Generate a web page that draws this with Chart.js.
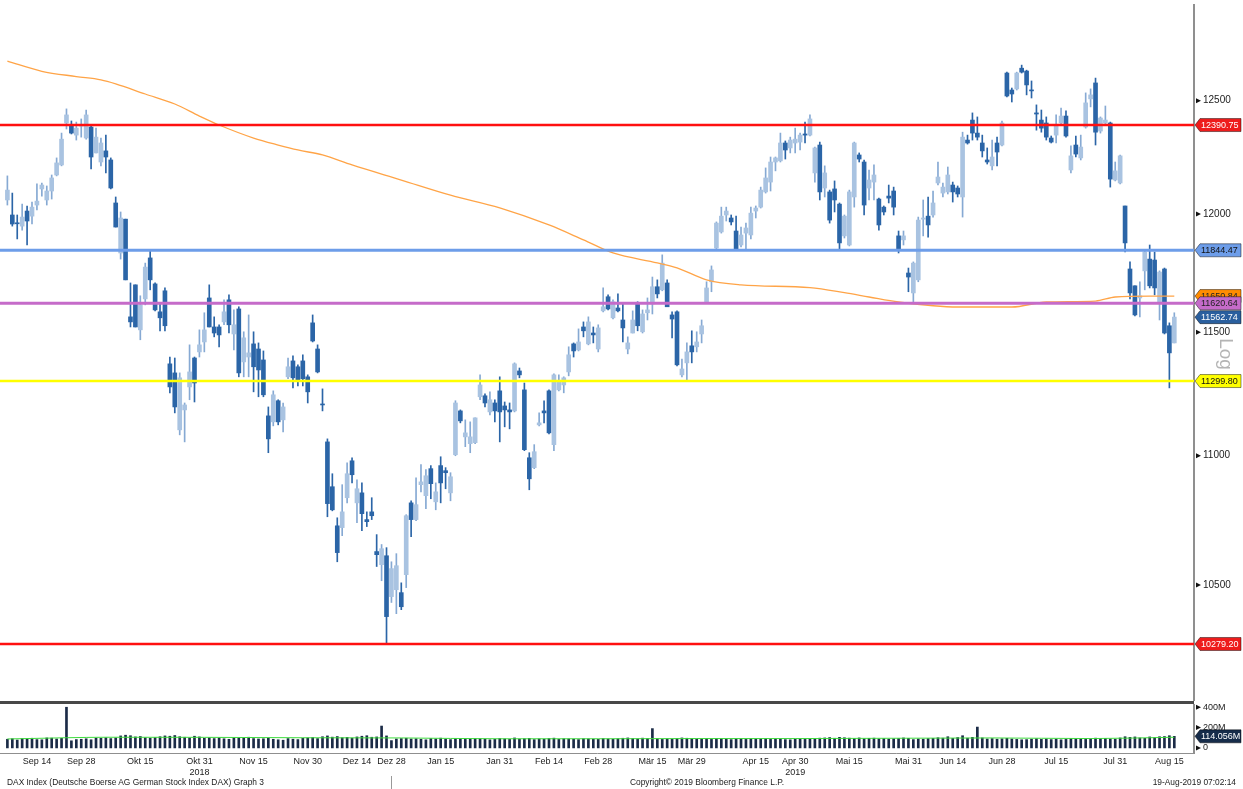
<!DOCTYPE html>
<html>
<head>
<meta charset="utf-8">
<script src="https://cdn.jsdelivr.net/npm/chart.js@4.4.1/dist/chart.umd.min.js"></script>
<style>
    html, body { margin: 0; padding: 0; background: #fff; }
    body { width: 1243px; height: 789px; position: relative; overflow: hidden;
           font-family: 'Liberation Sans', Arial, sans-serif; }
    #priceBox { position: absolute; left: 0; top: 0; }
    #sep { position: absolute; left: 0; top: 701px; width: 1194px; height: 3px; background: #484848; }
    #volBox { position: absolute; left: 0; top: 704px; }
    .foot { position: absolute; top: 777px; font-size: 8.4px; color: #222; white-space: nowrap; }
</style>
</head>
<body>
<div id="priceBox"><canvas id="priceChart" width="1243" height="701"></canvas></div>
<div id="sep"></div>
<div id="volBox"><canvas id="volChart" width="1243" height="85"></canvas></div>
<div class="foot" style="left:7px">DAX Index (Deutsche Boerse AG German Stock Index DAX) Graph 3</div>
<div class="foot" style="left:630px">Copyright© 2019 Bloomberg Finance L.P.</div>
<div class="foot" style="right:7px">19-Aug-2019 07:02:14</div>
<script>
// DAX daily candles, one entry per trading day (Sep 2018 .. 16 Aug 2019)
const openPx = [
    12061, 11996, 11961, 11948, 12013, 11991, 12039, 12109, 12061, 12100,
    12170, 12214, 12400, 12386, 12346, 12386, 12333, 12382, 12267, 12227,
    12276, 12236, 12048, 11833, 11978, 11564, 11698, 11510, 11639, 11812,
    11702, 11585, 11673, 11370, 11333, 11103, 11183, 11276, 11394, 11419,
    11460, 11643, 11522, 11522, 11543, 11635, 11493, 11597, 11378, 11398,
    11452, 11431, 11386, 11159, 11135, 11220, 11143, 11317, 11382, 11358,
    11382, 11317, 11539, 11431, 11207, 11055, 10878, 10726, 10719, 10835,
    10980, 10815, 10854, 10750, 10780, 10627, 10577, 10611, 10456, 10482,
    10471, 10539, 10815, 10750, 10886, 10843, 10949, 10819, 10961, 10941,
    10854, 11004, 11179, 11075, 11048, 11052, 11236, 11240, 11175, 11211,
    11260, 11199, 11183, 11179, 11341, 11264, 10992, 10953, 11123, 11179,
    11260, 11044, 11264, 11284, 11337, 11452, 11427, 11522, 11452, 11497,
    11431, 11589, 11648, 11560, 11601, 11551, 11431, 11497, 11618, 11502,
    11581, 11618, 11690, 11677, 11706, 11572, 11585, 11325, 11374, 11444,
    11440, 11493, 11627, 11711, 11854, 11923, 11996, 11983, 11927, 11867,
    11918, 11910, 12013, 12030, 12096, 12139, 12227, 12232, 12311, 12289,
    12311, 12315, 12351, 12346, 12179, 12302, 12113, 12096, 12109, 12043,
    11906, 11867, 12074, 12258, 12227, 12113, 12139, 12065, 12030, 12078,
    12100, 11906, 11889, 11748, 11664, 11719, 11978, 11991, 11996, 12135,
    12091, 12096, 12126, 12113, 12074, 12324, 12413, 12355, 12311, 12236,
    12210, 12311, 12302, 12625, 12548, 12553, 12647, 12634, 12548, 12445,
    12413, 12400, 12333, 12346, 12400, 12431, 12192, 12302, 12245, 12382,
    12508, 12580, 12364, 12400, 12400, 12148, 12135, 12035, 11765, 11694,
    11643, 11757, 11807, 11803, 11627, 11765, 11527, 11456
];
const highPx = [
    12166, 12091, 11996, 12043, 12035, 12052, 12131, 12135, 12122, 12170,
    12245, 12355, 12463, 12409, 12404, 12418, 12458, 12391, 12377, 12333,
    12346, 12245, 12074, 12009, 11978, 11706, 11698, 11652, 11790, 11842,
    11706, 11618, 11685, 11398, 11394, 11333, 11211, 11448, 11398, 11510,
    11581, 11698, 11564, 11531, 11635, 11656, 11593, 11606, 11502, 11572,
    11502, 11456, 11423, 11195, 11260, 11224, 11211, 11394, 11403, 11366,
    11407, 11325, 11572, 11448, 11268, 11067, 10929, 10757, 10886, 10972,
    10992, 10905, 10893, 10780, 10835, 10692, 10654, 10642, 10588, 10619,
    10508, 10769, 10823, 10913, 10965, 10945, 10961, 10893, 10996, 10953,
    10933, 11220, 11183, 11143, 11135, 11151, 11325, 11248, 11256, 11224,
    11317, 11215, 11211, 11374, 11353, 11292, 11012, 11044, 11171, 11220,
    11264, 11329, 11325, 11317, 11440, 11456, 11514, 11543, 11564, 11522,
    11531, 11685, 11656, 11635, 11660, 11622, 11481, 11589, 11627, 11593,
    11643, 11731, 11719, 11825, 11719, 11585, 11589, 11390, 11456, 11506,
    11502, 11551, 11711, 11778, 11966, 12030, 12030, 11996, 11991, 11944,
    11961, 12030, 12035, 12117, 12201, 12249, 12249, 12355, 12320, 12337,
    12377, 12355, 12404, 12436, 12293, 12315, 12210, 12104, 12144, 12048,
    11996, 12104, 12315, 12267, 12236, 12192, 12214, 12069, 12035, 12126,
    12117, 11927, 11927, 11769, 11795, 11987, 12061, 12074, 12100, 12227,
    12135, 12205, 12139, 12122, 12359, 12346, 12445, 12427, 12346, 12289,
    12324, 12337, 12409, 12629, 12557, 12629, 12661, 12638, 12589, 12481,
    12458, 12427, 12342, 12436, 12467, 12454, 12298, 12342, 12346, 12535,
    12553, 12602, 12427, 12476, 12404, 12227, 12258, 12035, 11795, 11694,
    11711, 11846, 11867, 11837, 11757, 11769, 11539, 11581
];
const lowPx = [
    12039, 11948, 11893, 11931, 11867, 11957, 12018, 12078, 12039, 12065,
    12166, 12210, 12373, 12351, 12324, 12337, 12328, 12197, 12267, 12210,
    12179, 12109, 11944, 11807, 11719, 11522, 11522, 11469, 11614, 11677,
    11589, 11506, 11506, 11252, 11171, 11083, 11055, 11224, 11215, 11398,
    11419, 11522, 11481, 11440, 11531, 11497, 11427, 11317, 11317, 11317,
    11256, 11236, 11236, 11012, 11119, 11123, 11095, 11309, 11272, 11280,
    11280, 11211, 11460, 11333, 11179, 10761, 10784, 10588, 10688, 10815,
    10893, 10738, 10707, 10723, 10750, 10570, 10516, 10279, 10434, 10392,
    10407, 10490, 10684, 10746, 10858, 10792, 10831, 10788, 10815, 10870,
    10823, 11000, 11131, 11036, 11012, 11048, 11224, 11195, 11163, 11135,
    11055, 11115, 11107, 11175, 11313, 11020, 10866, 10949, 11119, 11131,
    11087, 11020, 11260, 11252, 11321, 11398, 11423, 11481, 11448, 11456,
    11419, 11585, 11593, 11555, 11585, 11460, 11411, 11497, 11506, 11497,
    11551, 11576, 11643, 11673, 11606, 11477, 11362, 11317, 11305, 11374,
    11419, 11456, 11622, 11669, 11850, 11918, 11970, 11953, 11846, 11859,
    11846, 11893, 11983, 12026, 12091, 12100, 12188, 12227, 12240, 12267,
    12267, 12280, 12311, 12342, 12139, 12061, 12074, 11961, 12009, 11846,
    11897, 11863, 12030, 12227, 11996, 12061, 12061, 11931, 11996, 12048,
    11996, 11833, 11867, 11669, 11627, 11711, 11906, 11901, 11987, 12126,
    12074, 12087, 12052, 12074, 11987, 12306, 12324, 12324, 12249, 12218,
    12192, 12210, 12298, 12517, 12494, 12548, 12625, 12526, 12512, 12368,
    12359, 12324, 12311, 12311, 12391, 12337, 12179, 12249, 12236, 12377,
    12472, 12302, 12355, 12391, 12117, 12144, 12131, 11837, 11639, 11568,
    11564, 11677, 11685, 11656, 11551, 11493, 11272, 11456
];
const closePx = [
    12104, 11957, 11958, 11987, 11970, 12030, 12056, 12126, 12100, 12157,
    12223, 12328, 12436, 12355, 12377, 12391, 12436, 12249, 12337, 12311,
    12249, 12113, 11944, 11983, 11719, 11543, 11522, 11614, 11773, 11719,
    11593, 11560, 11527, 11276, 11195, 11313, 11203, 11337, 11292, 11448,
    11510, 11522, 11497, 11489, 11585, 11531, 11531, 11333, 11477, 11415,
    11358, 11345, 11244, 11067, 11244, 11135, 11195, 11358, 11313, 11305,
    11309, 11256, 11464, 11337, 11203, 10812, 10788, 10623, 10780, 10929,
    10925, 10870, 10773, 10742, 10765, 10615, 10638, 10381, 10562, 10573,
    10418, 10765, 10750, 10808, 10897, 10921, 10890, 10858, 10893, 10933,
    10917, 11211, 11139, 11091, 11075, 11151, 11284, 11211, 11224, 11179,
    11175, 11183, 11175, 11370, 11325, 11024, 10909, 11016, 11131, 11171,
    11091, 11325, 11296, 11313, 11407, 11423, 11460, 11506, 11543, 11489,
    11518, 11606, 11597, 11627, 11589, 11518, 11456, 11551, 11527, 11576,
    11593, 11690, 11660, 11790, 11606, 11555, 11366, 11349, 11419, 11419,
    11460, 11527, 11685, 11761, 11961, 11991, 12013, 11966, 11846, 11910,
    11940, 12004, 12026, 12104, 12157, 12227, 12245, 12311, 12280, 12324,
    12328, 12346, 12346, 12418, 12289, 12096, 12179, 11974, 12061, 11876,
    11991, 12096, 12311, 12240, 12039, 12148, 12170, 11953, 12009, 12069,
    12030, 11846, 11906, 11731, 11790, 11974, 11983, 11953, 12048, 12161,
    12117, 12170, 12096, 12087, 12337, 12311, 12355, 12337, 12276, 12227,
    12249, 12271, 12400, 12521, 12530, 12625, 12629, 12571, 12544, 12440,
    12377, 12337, 12315, 12391, 12431, 12342, 12254, 12262, 12293, 12490,
    12526, 12359, 12422, 12413, 12152, 12188, 12254, 11876, 11664, 11572,
    11652, 11837, 11694, 11685, 11752, 11497, 11415, 11563
];
// daily volume, millions of shares
const volumeM = [
    85, 90, 78, 92, 88, 95, 82, 80, 98, 96, 88, 94, 400, 70, 82, 85, 90, 80, 96, 94,
    100, 92, 98, 118, 125, 120, 108, 112, 100, 95, 102, 110, 118, 115, 122, 110, 105, 98, 115, 108,
    95, 100, 92, 98, 90, 85, 100, 98, 95, 105, 92, 88, 90, 96, 85, 80, 76, 92, 86, 82,
    95, 98, 102, 92, 110, 118, 106, 112, 100, 104, 96, 108, 115, 120, 105, 108, 215, 118, 72, 88,
    92, 95, 88, 90, 85, 80, 92, 88, 96, 86, 82, 90, 94, 84, 88, 92, 90, 86, 80, 84,
    92, 88, 84, 98, 86, 90, 94, 82, 88, 86, 92, 96, 84, 90, 88, 86, 82, 90, 88, 86,
    84, 92, 88, 86, 90, 95, 98, 92, 88, 96, 92, 190, 90, 84, 88, 86, 92, 98, 95, 92,
    88, 86, 90, 84, 92, 90, 86, 82, 88, 90, 84, 92, 86, 88, 90, 84, 86, 88, 82, 80,
    86, 90, 84, 88, 92, 96, 98, 102, 95, 104, 100, 96, 92, 98, 90, 94, 96, 88, 92, 86,
    90, 92, 98, 94, 82, 88, 86, 92, 94, 100, 96, 110, 94, 102, 120, 96, 104, 205, 98, 88,
    92, 86, 90, 94, 88, 84, 80, 82, 86, 90, 84, 88, 82, 86, 80, 84, 92, 88, 86, 84,
    90, 96, 92, 94, 88, 86, 98, 110, 104, 108, 98, 94, 108, 102, 110, 112, 120, 114
];

// 200 day moving average, read at a few candle positions
const maIdx = [0, 7, 14, 19, 22, 28, 34, 39, 43, 50, 55, 59, 64, 70, 80, 90, 100, 110, 117, 123,
               132, 136, 142, 149, 163, 170, 175, 181, 193, 204, 211, 221, 225, 232, 237];
const maVal = [12679, 12633, 12609, 12594, 12576, 12530, 12485, 12431, 12391, 12333, 12302, 12280,
               12258, 12214, 12148, 12082, 12027, 11953, 11889, 11833, 11791, 11770, 11719, 11698,
               11686, 11665, 11647, 11626, 11605, 11605, 11626, 11630, 11647, 11651, 11651];
// volume average
const volMaIdx = [0, 12, 20, 40, 60, 80, 100, 120, 140, 160, 180, 200, 220, 237];
const volMaVal = [88, 100, 105, 104, 100, 98, 90, 90, 92, 92, 95, 98, 92, 105];

// horizontal levels drawn across the chart
const levelVal = [12390.75, 11844.47, 11620.64, 11299.80, 10279.20];
const levelCol = ['#ff1010', '#6d9de9', '#c56bc9', '#ffff00', '#ff1010'];
const levelWidth = [2.5, 3, 3, 2.5, 2.5];

// value tags on the right axis
const tagVal = [12390.75, 11844.47, 11650.84, 11620.64, 11562.74, 11299.80, 10279.20];
const tagBg = ['#ee1c1c', '#6d9de9', '#ff8c00', '#c56bc9', '#2a5f9e', '#ffff00', '#ee1c1c'];
const tagFg = ['#ffffff', '#111111', '#222222', '#222222', '#ffffff', '#111111', '#ffffff'];

const priceTicks = [10500, 11000, 11500, 12000, 12500];
const volTicks = [0, 200, 400];
const volLast = 114.056;

const xTickIdx = [6, 15, 27, 39, 50, 61, 71, 78, 88, 100, 110, 120, 131, 139, 152, 160, 171, 183, 192, 202, 213, 225, 236];
const xTickText = ['Sep 14', 'Sep 28', 'Okt 15', ['Okt 31', '2018'], 'Nov 15', 'Nov 30', 'Dez 14', 'Dez 28',
                   'Jan 15', 'Jan 31', 'Feb 14', 'Feb 28', 'Mär 15', 'Mär 29', 'Apr 15', ['Apr 30', '2019'],
                   'Mai 15', 'Mai 31', 'Jun 14', 'Jun 28', 'Jul 15', 'Jul 31', 'Aug 15'];

const FONT = "'Liberation Sans', Arial, sans-serif";
const X_MIN = -1.5, X_MAX = 241;
const AXIS_W = 49;

const DARK = '#2b65a7';
const LIGHT = '#a9c3e1';
const LIGHT_WICK = '#86a9d3';

const isDown = closePx.map((c, i) => c <= openPx[i]);
const wickData = closePx.map((c, i) => ({ x: i, y: [lowPx[i], highPx[i]] }));
const bodyData = closePx.map((c, i) => ({ x: i, y: [openPx[i], c] }));

function drawTag(ctx, x, y, text, bg, fg) {
    const h = 13, w = 46;
    ctx.beginPath();
    ctx.moveTo(x, y);
    ctx.lineTo(x + 5, y - h / 2);
    ctx.lineTo(x + w, y - h / 2);
    ctx.lineTo(x + w, y + h / 2);
    ctx.lineTo(x + 5, y + h / 2);
    ctx.closePath();
    ctx.fillStyle = bg;
    ctx.fill();
    ctx.strokeStyle = 'rgba(0,0,0,0.45)';
    ctx.lineWidth = 1;
    ctx.stroke();
    ctx.fillStyle = fg;
    ctx.font = '9px ' + FONT;
    ctx.textAlign = 'left';
    ctx.textBaseline = 'middle';
    ctx.fillText(text, x + 6, y + 0.5);
}

function drawTickArrows(ctx, scale, values) {
    ctx.fillStyle = '#111';
    values.forEach(v => {
        const y = scale.getPixelForValue(v);
        const x = scale.left + 2;
        ctx.beginPath();
        ctx.moveTo(x, y - 2.5);
        ctx.lineTo(x + 5, y);
        ctx.lineTo(x, y + 2.5);
        ctx.closePath();
        ctx.fill();
    });
}

// tags, tick arrows and the "Log" note on the price axis
const priceDecor = {
    id: 'priceDecor',
    afterDraw(chart) {
        const ctx = chart.ctx;
        const y = chart.scales.y;
        ctx.save();
        drawTickArrows(ctx, y, priceTicks);
        tagVal.forEach((v, i) => {
            drawTag(ctx, y.left + 1, y.getPixelForValue(v), v.toFixed(2), tagBg[i], tagFg[i]);
        });
        ctx.translate(1225, 354);
        ctx.rotate(Math.PI / 2);
        ctx.fillStyle = '#b4b4b4';
        ctx.font = '19px ' + FONT;
        ctx.textAlign = 'center';
        ctx.textBaseline = 'middle';
        ctx.fillText('Log', 0, 0);
        ctx.restore();
    }
};

const volDecor = {
    id: 'volDecor',
    afterDraw(chart) {
        const ctx = chart.ctx;
        const y = chart.scales.y;
        const x = chart.scales.x;
        ctx.save();
        drawTickArrows(ctx, y, volTicks);
        drawTag(ctx, y.left + 1, y.getPixelForValue(volLast), volLast.toFixed(3) + 'M', '#162c4a', '#ffffff');
        // year marker under Dez 28
        const xm = Math.round(x.getPixelForValue(xTickIdx[7])) + 0.5;
        ctx.strokeStyle = '#999';
        ctx.lineWidth = 1;
        ctx.beginPath();
        ctx.moveTo(xm, 72);
        ctx.lineTo(xm, 85);
        ctx.stroke();
        ctx.restore();
    }
};

new Chart(document.getElementById('priceChart'), {
    type: 'bar',
    data: {
        datasets: [
            ...levelVal.map((v, i) => ({
                type: 'line',
                data: [{ x: X_MIN, y: v }, { x: X_MAX, y: v }],
                borderColor: levelCol[i],
                borderWidth: levelWidth[i],
                pointRadius: 0,
                order: 0
            })),
            {
                type: 'line',
                data: maIdx.map((x, i) => ({ x: x, y: maVal[i] })),
                borderColor: '#ffa447',
                borderWidth: 1.3,
                pointRadius: 0,
                cubicInterpolationMode: 'monotone',
                order: 1
            },
            {
                data: wickData,
                backgroundColor: isDown.map(d => d ? DARK : LIGHT_WICK),
                barThickness: 1,
                grouped: false,
                order: 3
            },
            {
                data: bodyData,
                backgroundColor: isDown.map(d => d ? DARK : LIGHT),
                barThickness: 4,
                minBarLength: 1,
                grouped: false,
                order: 2
            }
        ]
    },
    options: {
        responsive: false,
        animation: false,
        layout: { padding: { top: 5, left: 0, right: 0, bottom: 1 } },
        plugins: { legend: { display: false }, tooltip: { enabled: false } },
        scales: {
            x: { type: 'linear', min: X_MIN, max: X_MAX, offset: false, display: false },
            y: {
                type: 'logarithmic',
                position: 'right',
                min: 10074,
                max: 12938,
                grid: { display: false, drawTicks: false },
                border: { color: '#8f8f8f', width: 2 },
                afterBuildTicks: s => { s.ticks = priceTicks.map(v => ({ value: v })); },
                afterFit: s => { s.width = AXIS_W; s.paddingTop = 0; s.paddingBottom = 0; },
                ticks: {
                    padding: 9,
                    color: '#222',
                    font: { family: FONT, size: 10 },
                    callback: v => String(v)
                }
            }
        }
    },
    plugins: [priceDecor]
});

new Chart(document.getElementById('volChart'), {
    type: 'bar',
    data: {
        datasets: [
            {
                type: 'line',
                data: volMaIdx.map((x, i) => ({ x: x, y: volMaVal[i] })),
                borderColor: '#3ddc3d',
                borderWidth: 1,
                pointRadius: 0,
                cubicInterpolationMode: 'monotone',
                order: 0
            },
            {
                data: volumeM.map((v, i) => ({ x: i, y: v })),
                backgroundColor: '#1b2b47',
                barThickness: 2,
                grouped: false,
                order: 1
            }
        ]
    },
    options: {
        responsive: false,
        animation: false,
        layout: { padding: { top: 1, left: 0, right: 0, bottom: 0 } },
        plugins: { legend: { display: false }, tooltip: { enabled: false } },
        scales: {
            x: {
                type: 'linear',
                min: X_MIN,
                max: X_MAX,
                offset: false,
                grid: { display: false, drawTicks: false },
                border: { color: '#8f8f8f', width: 1 },
                afterBuildTicks: s => { s.ticks = xTickIdx.map(v => ({ value: v })); },
                afterFit: s => { s.height = 36; },
                ticks: {
                    autoSkip: false,
                    maxRotation: 0,
                    padding: 3,
                    color: '#222',
                    font: { family: FONT, size: 9 },
                    callback: v => {
                        const j = xTickIdx.indexOf(v);
                        return j < 0 ? '' : xTickText[j];
                    }
                }
            },
            y: {
                position: 'right',
                min: -50,
                max: 422,
                grid: { display: false, drawTicks: false },
                border: { color: '#8f8f8f', width: 2 },
                afterBuildTicks: s => { s.ticks = volTicks.map(v => ({ value: v })); },
                afterFit: s => { s.width = AXIS_W; s.paddingTop = 0; s.paddingBottom = 0; },
                ticks: {
                    padding: 9,
                    color: '#222',
                    font: { family: FONT, size: 9 },
                    callback: v => (v === 0 ? '0' : v + 'M')
                }
            }
        }
    },
    plugins: [volDecor]
});
</script>
</body>
</html>
